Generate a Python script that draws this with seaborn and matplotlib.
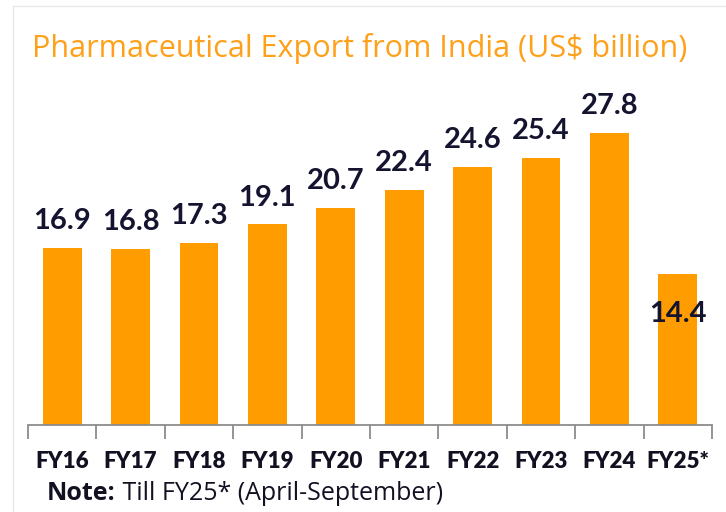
import matplotlib
matplotlib.use("Agg")
import matplotlib.pyplot as plt
import seaborn as sns
import pandas as pd
from matplotlib.lines import Line2D

categories = ["FY16", "FY17", "FY18", "FY19", "FY20", "FY21", "FY22", "FY23", "FY24", "FY25*"]
values = [16.9, 16.8, 17.3, 19.1, 20.7, 22.4, 24.6, 25.4, 27.8, 14.4]
title_text = "Pharmaceutical Export from India (US$ billion)"
note_bold = "Note:"
note_rest = " Till FY25* (April-September)"

sns.set_theme(style="white")
plt.rcParams["font.family"] = ["Lato", "DejaVu Sans"]

df = pd.DataFrame({"year": categories, "value": values})

fig = plt.figure(figsize=(7.26, 5.12), dpi=100)
ax = fig.add_axes([28/726, 1 - 425/512, (712 - 28)/726, 315/512])

bar_color = "#FF9D00"
sns.barplot(data=df, x="year", y="value", color=bar_color, width=0.57,
            saturation=1, ax=ax, edgecolor="none")

ax.set_xlim(-0.5, len(categories) - 0.5)
ax.set_ylim(0, 30)
ax.set_xlabel("")
ax.set_ylabel("")
ax.set_yticks([])
for s in ["left", "top", "right"]:
    ax.spines[s].set_visible(False)
ax.spines["bottom"].set_color("#8c8c8c")
ax.spines["bottom"].set_linewidth(1.3)

ax.set_xticks(range(len(categories)))
ax.set_xticklabels(categories, fontsize=16, fontweight="heavy", color="#111122")
ax.tick_params(axis="x", which="major", length=0, pad=19)
ax.set_xticks([i - 0.5 for i in range(len(categories) + 1)], minor=True)
ax.tick_params(axis="x", which="minor", length=10, width=1.3, color="#8c8c8c",
               bottom=True)

label_color = "#141430"
for i, (cat, v) in enumerate(zip(categories, values)):
    if i == len(categories) - 1:
        ax.annotate(f"{v:.1f}", xy=(i, v), xytext=(0, -29), textcoords="offset points",
                    ha="center", va="center", fontsize=21, fontweight="bold",
                    color=label_color)
    else:
        ax.annotate(f"{v:.1f}", xy=(i, v), xytext=(0, 10), textcoords="offset points",
                    ha="center", va="bottom", fontsize=21, fontweight="bold",
                    color=label_color)

fig.text(32/726, 1 - 48/512, title_text, fontsize=22, color="#FFA01A",
         ha="left", va="center", family=["Open Sans", "DejaVu Sans"])

t1 = fig.text(47/726, 1 - 494/512, note_bold, fontsize=18, fontweight="bold",
              color="#111122", ha="left", va="center",
              family=["Open Sans", "DejaVu Sans"])
ax.annotate(note_rest, xy=(1, 0.5), xycoords=t1, ha="left", va="center",
            fontsize=18, color="#111122", annotation_clip=False,
            family=["Open Sans", "DejaVu Sans"])

fig.add_artist(Line2D([13/726, 1], [1 - 6/512, 1 - 6/512], transform=fig.transFigure,
                      color="#e8e8e8", lw=1))
fig.add_artist(Line2D([13/726, 13/726], [0, 1 - 6/512], transform=fig.transFigure,
                      color="#e8e8e8", lw=1))

fig.savefig("out.png", dpi=100, facecolor="white")
